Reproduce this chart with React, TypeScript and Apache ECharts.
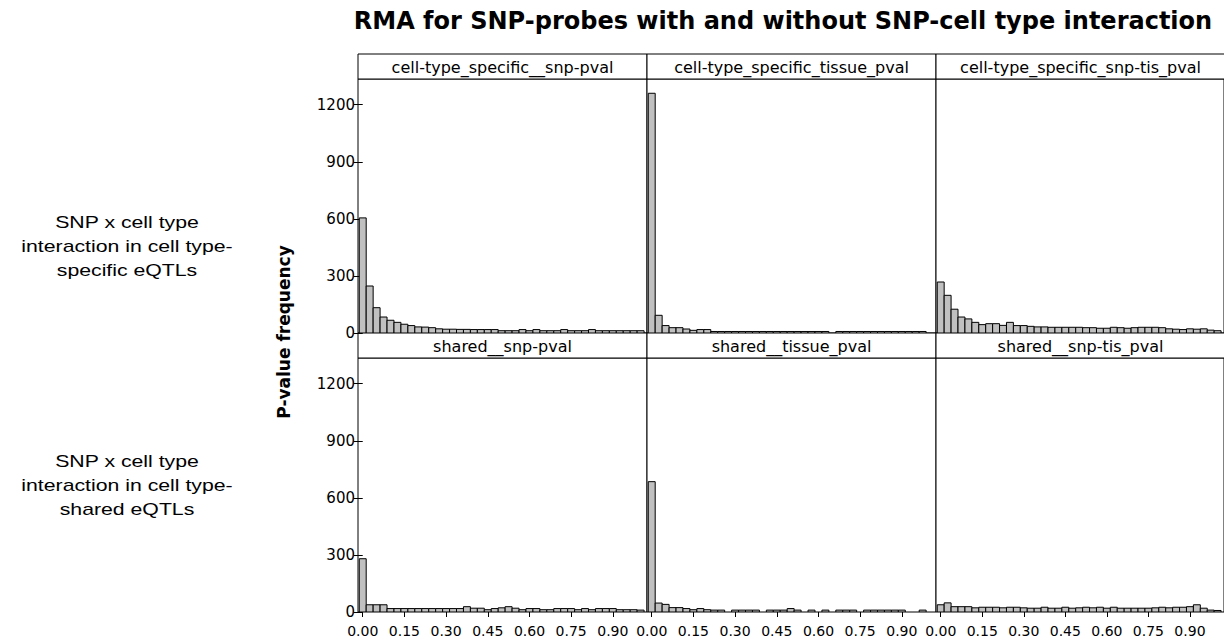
import React, { useEffect, useRef } from "react";
import * as echarts from "echarts";

const TITLE = "RMA for SNP-probes with and without SNP-cell type interaction";
const Y_NAME = "P-value frequency";
const ROW_LABELS = [
  "SNP x cell type\ninteraction in cell type-\nspecific eQTLs",
  "SNP x cell type\ninteraction in cell type-\nshared eQTLs",
];
const PANEL_TITLES = [
  "cell-type_specific__snp-pval",
  "cell-type_specific_tissue_pval",
  "cell-type_specific_snp-tis_pval",
  "shared__snp-pval",
  "shared__tissue_pval",
  "shared__snp-tis_pval",
];
const BIN_WIDTH = 0.025;
const BIN_COUNT = 41;
const BIN_CENTERS = Array.from({ length: BIN_COUNT }, (_, i) => +(i * BIN_WIDTH).toFixed(4));
const X_TICKS = [0, 0.15, 0.3, 0.45, 0.6, 0.75, 0.9];
const Y_TICKS = [0, 300, 600, 900, 1200];
const Y_MAX = 1335;
const Y_INTERVAL = 300;

const specificSnp = [605, 247, 133, 84, 67, 56, 46, 39, 32, 31, 28, 22, 20, 20, 19, 19, 18, 18, 18, 18, 12, 12, 12, 18, 12, 18, 12, 12, 12, 18, 12, 12, 12, 18, 12, 12, 12, 12, 12, 12, 12];
const specificTissue = [1260, 93, 39, 28, 28, 21, 14, 18, 18, 8, 8, 8, 8, 8, 8, 8, 8, 8, 8, 8, 8, 8, 8, 8, 8, 8, 0, 8, 8, 8, 8, 8, 8, 8, 8, 8, 8, 8, 8, 8, 0];
const specificSnpTis = [268, 198, 125, 84, 74, 56, 44, 49, 49, 40, 56, 39, 39, 35, 32, 32, 30, 30, 30, 30, 30, 28, 28, 25, 25, 30, 28, 25, 28, 30, 30, 30, 28, 22, 20, 18, 22, 20, 22, 15, 12];
const sharedSnp = [280, 38, 38, 38, 18, 18, 18, 18, 18, 18, 18, 18, 18, 18, 18, 28, 20, 20, 12, 18, 22, 28, 20, 12, 18, 18, 12, 12, 18, 18, 18, 12, 18, 12, 18, 18, 18, 12, 12, 12, 10];
const sharedTissue = [685, 47, 40, 23, 23, 18, 12, 18, 12, 10, 10, 0, 10, 10, 10, 10, 0, 10, 10, 10, 18, 10, 0, 10, 0, 10, 0, 10, 10, 10, 0, 10, 10, 10, 10, 10, 10, 0, 0, 10, 0];
const sharedSnpTis = [38, 48, 28, 28, 28, 22, 25, 25, 25, 22, 25, 25, 22, 20, 20, 25, 20, 20, 25, 20, 22, 25, 22, 25, 20, 25, 20, 20, 20, 20, 20, 22, 25, 22, 25, 25, 28, 38, 20, 10, 8];

const PANEL_DATA = [specificSnp, specificTissue, specificSnpTis, sharedSnp, sharedTissue, sharedSnpTis];

const FONT = "'DejaVu Sans', sans-serif";

export default function App() {
  const ref = useRef<HTMLDivElement>(null);
  useEffect(() => {
    if (!ref.current) return;
    const chart = echarts.init(ref.current, null, { renderer: "svg" });

    const LEFT0 = 358;
    const PW = 289;
    const HEADER_TOPS = [54, 333];
    const HEADER_H = 25;
    const PLOT_TOPS = [79, 358];
    const PLOT_H = [254, 254];

    const grids: any[] = [];
    const xAxes: any[] = [];
    const yAxes: any[] = [];
    const series: any[] = [];
    const graphics: any[] = [];

    for (let i = 0; i < 6; i++) {
      const row = Math.floor(i / 3);
      const col = i % 3;
      const left = LEFT0 + col * PW;
      grids.push({
        left,
        top: PLOT_TOPS[row],
        width: PW,
        height: PLOT_H[row],
        show: true,
        borderColor: "#000",
        borderWidth: 1,
        backgroundColor: "#fff",
      });
      xAxes.push({
        type: "value",
        gridIndex: i,
        min: -0.017,
        max: 1.023,
        splitLine: { show: false },
        axisLine: { show: false },
        axisTick: {
          show: row === 1,
          length: 5,
          lineStyle: { color: "#000", width: 1 },
          customValues: X_TICKS,
        },
        axisLabel: {
          show: row === 1,
          customValues: X_TICKS,
          formatter: (v: number) => v.toFixed(2),
          color: "#000",
          fontFamily: FONT,
          fontSize: 14,
          margin: 12,
        },
      });
      yAxes.push({
        type: "value",
        gridIndex: i,
        min: 0,
        max: Y_MAX,
        interval: Y_INTERVAL,
        splitLine: { show: false },
        axisLine: { show: false },
        axisTick: {
          show: col === 0,
          length: 9,
          lineStyle: { color: "#000" },
          customValues: Y_TICKS,
        },
        axisLabel: {
          show: col === 0,
          customValues: Y_TICKS,
          formatter: (v: number) => String(v),
          color: "#000",
          fontFamily: FONT,
          fontSize: 15,
          margin: 3,
        },
      });
      series.push({
        type: "custom",
        xAxisIndex: i,
        yAxisIndex: i,
        clip: true,
        data: PANEL_DATA[i].map((v, k) => [BIN_CENTERS[k], v]),
        renderItem: (params: any, api: any) => {
          const x = api.value(0);
          const y = api.value(1);
          if (!y) return null;
          const p0 = api.coord([x - BIN_WIDTH / 2, y]);
          const p1 = api.coord([x + BIN_WIDTH / 2, 0]);
          return {
            type: "rect",
            shape: { x: p0[0], y: p0[1], width: p1[0] - p0[0], height: p1[1] - p0[1] },
            style: { fill: "#c0c0c0", stroke: "#000", lineWidth: 1 },
          };
        },
      });
      graphics.push({
        type: "rect",
        shape: { x: left, y: HEADER_TOPS[row], width: PW, height: HEADER_H },
        style: { fill: "#fff", stroke: "#000", lineWidth: 1 },
      });
      graphics.push({
        type: "text",
        x: left + PW / 2,
        y: HEADER_TOPS[row] + HEADER_H / 2 + 1,
        style: {
          text: PANEL_TITLES[i],
          font: `16px ${FONT}`,
          fill: "#000",
          align: "center",
          verticalAlign: "middle",
        },
      });
    }

    graphics.push({
      type: "text",
      x: 783,
      y: 21,
      style: {
        text: TITLE,
        font: `bold 24px 'DejaVu Sans', sans-serif`,
        fill: "#000",
        align: "center",
        verticalAlign: "middle",
      },
    });
    graphics.push({
      type: "text",
      x: 284,
      y: 332,
      rotation: Math.PI / 2,
      style: {
        text: Y_NAME,
        font: `bold 17px 'DejaVu Sans', sans-serif`,
        fill: "#000",
        align: "center",
        verticalAlign: "middle",
      },
    });
    const ROW_CENTERS = [246, 485];
    ROW_LABELS.forEach((t, r) => {
      graphics.push({
        type: "text",
        x: 127,
        y: ROW_CENTERS[r],
        scaleX: 1.25,
        style: {
          text: t,
          font: `17px 'Liberation Sans', Arial, sans-serif`,
          lineHeight: 24,
          fill: "#000",
          align: "center",
          verticalAlign: "middle",
        },
      });
    });

    chart.setOption({
      animation: false,
      backgroundColor: "#fff",
      grid: grids,
      xAxis: xAxes,
      yAxis: yAxes,
      series,
      graphic: graphics,
    });
    return () => chart.dispose();
  }, []);
  return (
    <div
      ref={ref}
      style={{ position: "absolute", left: 0, top: 0, width: 1224, height: 643 }}
    />
  );
}
